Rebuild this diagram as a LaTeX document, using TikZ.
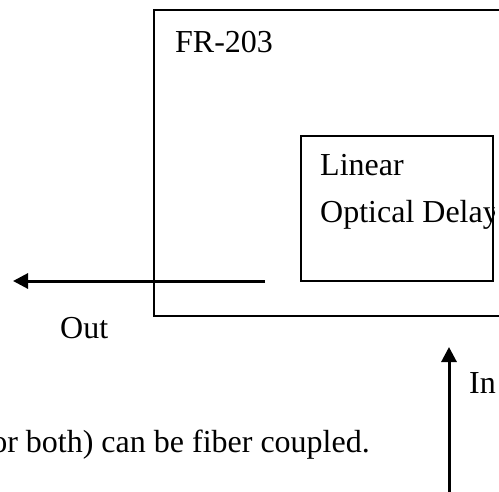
\documentclass[tikz,border=0pt]{standalone}
\usepackage{fontspec}
\setmainfont{Liberation Serif}
\usetikzlibrary{arrows.meta,positioning}

\begin{document}
\begin{tikzpicture}[
        x=1pt, y=-1pt,
        font=\fontsize{32}{38}\selectfont,
        box/.style={
            rectangle, draw=black, line width=2pt, inner sep=0pt
        },
        lbl/.style={
            inner sep=0pt, anchor=base west, text=black
        },
        beam/.style={-{Triangle[length=15pt,width=15pt]}, line width=3pt, draw=black}
    ]
    \useasboundingbox (0,0) rectangle (499,491);
    \clip (0,0) rectangle (499,491);

    % Outer unit
    \node[box, minimum width=366pt, minimum height=306pt] (fr) at (337,163) {};
    \node[lbl] (frlabel) at (175,52) {FR-203};

    % Inner delay stage
    \node[box, line width=2.5pt, minimum width=192pt, minimum height=145pt] (delay) at (397,208.5) {};
    \begin{scope}
        \clip (delay.south west) rectangle (delay.north east);
        \node[lbl] (linear) at (320,175) {Linear};
        \node[lbl] (optdelay) at (320,222) {Optical Delay};
    \end{scope}

    % Beams
    \coordinate (outstart) at (265,281);
    \coordinate (outend) at (13,281);
    \draw[beam] (outstart) -- (outend);
    \node[lbl] (outlabel) at (60,338) {Out};

    \coordinate (instart) at (449,500);
    \coordinate (inend) at (449,347);
    \draw[beam] (instart) -- (inend);
    \node[lbl] (inlabel) at (469,393) {In};

    % Note
    \node[lbl, anchor=base east] (note) at (370,452) {or both) can be fiber coupled.};
\end{tikzpicture}
\end{document}
